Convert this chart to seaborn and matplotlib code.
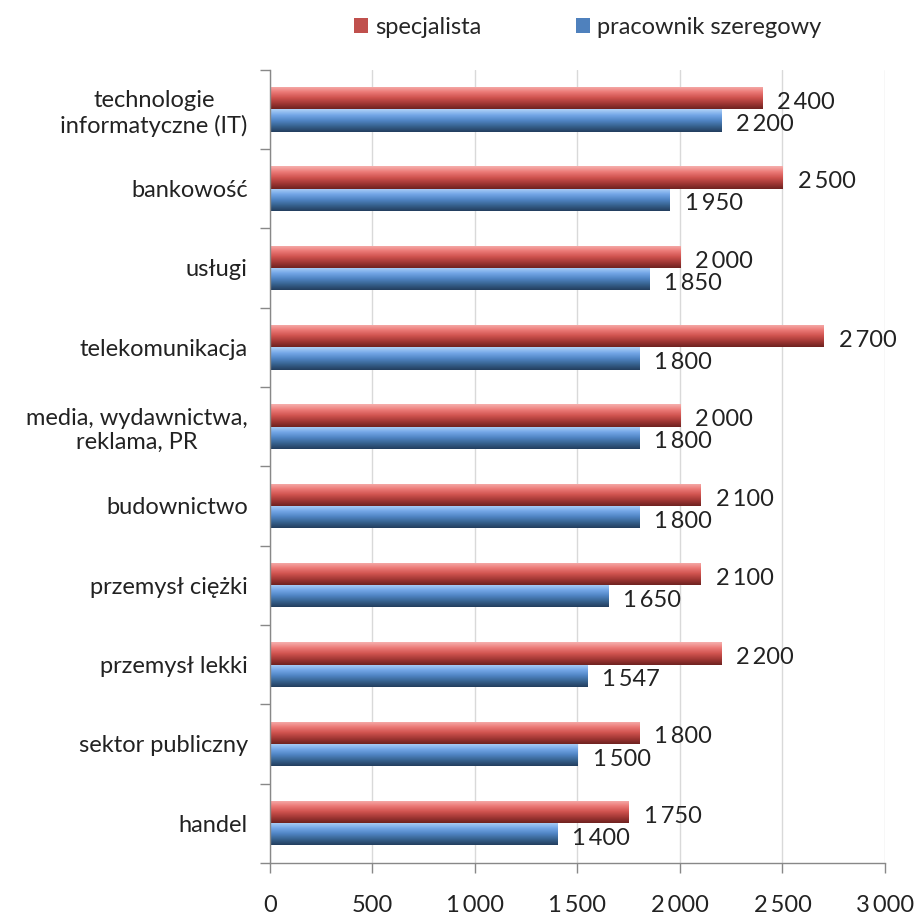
import numpy as np
import pandas as pd
import matplotlib
matplotlib.use("Agg")
import matplotlib.pyplot as plt
import matplotlib.ticker as mticker
from matplotlib.colors import LinearSegmentedColormap
import seaborn as sns

categories = ["technologie\ninformatyczne (IT)", "bankowość", "usługi", "telekomunikacja",
              "media, wydawnictwa,\nreklama, PR", "budownictwo", "przemysł ciężki",
              "przemysł lekki", "sektor publiczny", "handel"]
specjalista = [2400, 2500, 2000, 2700, 2000, 2100, 2100, 2200, 1800, 1750]
pracownik = [2200, 1950, 1850, 1800, 1800, 1800, 1650, 1547, 1500, 1400]
series = ["specjalista", "pracownik szeregowy"]
x_ticks = [0, 500, 1000, 1500, 2000, 2500, 3000]

df = pd.DataFrame({
    "branza": categories * 2,
    "seria": [series[0]] * len(categories) + [series[1]] * len(categories),
    "wartosc": specjalista + pracownik,
})

sns.set_theme(style="white")
plt.rcParams["font.family"] = ["Lato", "DejaVu Sans"]

FS = 17
RED = "#c0504d"
BLUE = "#4f81bd"
grad = {
    RED: ["#f6b0ae", "#ec7a77", "#d0534f", "#a23835", "#6e2220"],
    BLUE: ["#b0d2f7", "#75a8e8", "#5085c4", "#37628f", "#233e5e"],
}


def fmt(v):
    return f"{int(v):,}".replace(",", "\u2009")


fig = plt.figure(figsize=(9.18, 9.17), dpi=100)
ax = fig.add_axes([0.294, 0.059, 0.670, 0.865])

sns.barplot(data=df, y="branza", x="wartosc", hue="seria", orient="h",
            palette=[RED, BLUE], width=0.56, ax=ax, legend=True, saturation=1)

# cylinder-like gradient on each bar
for cont, col in zip(ax.containers, [RED, BLUE]):
    cmap = LinearSegmentedColormap.from_list("g", grad[col])
    g = np.linspace(0, 1, 64).reshape(-1, 1)
    for bar in cont:
        x0, y0 = bar.get_x(), bar.get_y()
        w, h = bar.get_width(), bar.get_height()
        im = ax.imshow(g, cmap=cmap, aspect="auto", extent=(x0, x0 + w, y0 + h, y0),
                       zorder=bar.get_zorder() + 0.1, interpolation="bicubic")
        im.set_clip_path(bar)
        bar.set_edgecolor("none")

# value labels, a bit below the bar centre like the original
for cont, vals in zip(ax.containers, [specjalista, pracownik]):
    for bar, v in zip(cont, vals):
        ax.annotate(fmt(v), (bar.get_x() + bar.get_width(), bar.get_y() + bar.get_height() / 2),
                    xytext=(11, -3), textcoords="offset points", ha="left", va="center",
                    fontsize=FS, color="#222222")

ax.set_xlim(0, 3000)
ax.set_ylim(len(categories) - 0.5, -0.5)
ax.set_xticks(x_ticks)
ax.xaxis.set_major_formatter(mticker.FuncFormatter(lambda v, _: fmt(v)))
ax.tick_params(axis="x", direction="out", length=7, width=1, color="#888888",
               pad=16, labelsize=FS, labelcolor="#222222", bottom=True)
ax.set_yticks(np.arange(len(categories)))
ax.set_yticklabels(categories, ha="right", multialignment="center")
ax.set_yticks(np.arange(len(categories) + 1) - 0.5, minor=True)
ax.tick_params(axis="y", which="major", length=0, pad=16, labelsize=FS, labelcolor="#222222")
ax.tick_params(axis="y", which="minor", direction="out", length=7, width=1,
               color="#888888", left=True)
ax.grid(axis="x", color="#d9d9d9", linewidth=1)
ax.set_axisbelow(True)
ax.set_xlabel("")
ax.set_ylabel("")

for s in ["top", "right"]:
    ax.spines[s].set_visible(False)
for s in ["left", "bottom"]:
    ax.spines[s].set_color("#888888")
    ax.spines[s].set_linewidth(1)

ax.legend_.remove()
handles = [plt.Rectangle((0, 0), 1, 1, facecolor=c, edgecolor="none") for c in [RED, BLUE]]
fig.legend(handles, series, loc="center", bbox_to_anchor=(0.64, 0.97), ncol=2,
           frameon=False, fontsize=FS, handlelength=0.6, handleheight=0.6,
           handletextpad=0.3, columnspacing=4)

fig.savefig("out.png", dpi=100)
